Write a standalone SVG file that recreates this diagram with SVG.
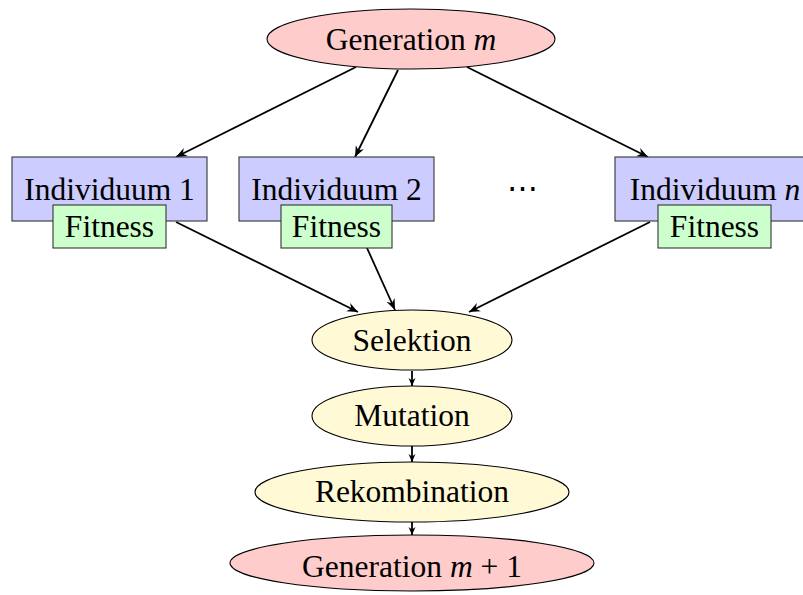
<svg xmlns="http://www.w3.org/2000/svg" width="803" height="595" viewBox="0 0 803 595">
  <style>
    text { font-family: "Liberation Serif", "DejaVu Serif", serif; font-size: 31.5px; fill: #000; text-anchor: middle; }
    .math { font-style: italic; }
    .dots { font-size: 31px; }
    .gen { fill: #ffcccc; stroke: #000; stroke-width: 1.1; }
    .step { fill: #fff9d6; stroke: #000; stroke-width: 1.1; }
    .ind { fill: #ccccff; stroke: #333; stroke-width: 1.1; }
    .fit { fill: #ccffcc; stroke: #333; stroke-width: 1.1; }
    .edge { fill: none; stroke: #000; stroke-width: 1.8; }
  </style>
  <defs>
    <marker id="arrow" viewBox="-11 -5 12 10" refX="0" refY="0" markerWidth="12" markerHeight="10" markerUnits="userSpaceOnUse" orient="auto">
      <path d="M0,0 L-11,-4.5 L-7.5,0 L-11,4.5 Z" fill="#000"/>
    </marker>
    <marker id="arrow-small" viewBox="-8 -4 9 8" refX="0" refY="0" markerWidth="9" markerHeight="8" markerUnits="userSpaceOnUse" orient="auto">
      <path d="M0,0 L-8,-3.5 L-5.5,0 L-8,3.5 Z" fill="#000"/>
    </marker>
  </defs>

  <!-- connectors -->
  <g id="connectors">
    <line class="edge" x1="356" y1="67" x2="176" y2="157" marker-end="url(#arrow)"/>
    <line class="edge" x1="398" y1="70" x2="355" y2="157" marker-end="url(#arrow)"/>
    <line class="edge" x1="467" y1="67" x2="648" y2="157" marker-end="url(#arrow)"/>
    <line class="edge" x1="176" y1="222" x2="358" y2="312" marker-end="url(#arrow)"/>
    <line class="edge" x1="367" y1="248" x2="395" y2="310" marker-end="url(#arrow)"/>
    <line class="edge" x1="650" y1="222" x2="469" y2="312" marker-end="url(#arrow)"/>
    <line class="edge" x1="412" y1="371" x2="412" y2="386" marker-end="url(#arrow-small)"/>
    <line class="edge" x1="412" y1="446" x2="412" y2="462" marker-end="url(#arrow-small)"/>
    <line class="edge" x1="412" y1="522" x2="412" y2="535" marker-end="url(#arrow-small)"/>
  </g>

  <g id="gen-m">
    <ellipse class="gen" cx="411" cy="39" rx="144" ry="30"/>
    <text x="411" y="50">Generation <tspan class="math">m</tspan></text>
  </g>

  <g id="individuum-1">
    <rect class="ind" x="12" y="157" width="195" height="64"/>
    <text x="109.5" y="200">Individuum 1</text>
  </g>
  <g id="fitness-1">
    <rect class="fit" x="53" y="205" width="113" height="43"/>
    <text x="109.5" y="237">Fitness</text>
  </g>

  <g id="individuum-2">
    <rect class="ind" x="239" y="157" width="195" height="64"/>
    <text x="336.5" y="200">Individuum 2</text>
  </g>
  <g id="fitness-2">
    <rect class="fit" x="281" y="205" width="111" height="43"/>
    <text x="336.5" y="237">Fitness</text>
  </g>

  <g id="dots">
    <text class="dots" x="522" y="199">⋯</text>
  </g>

  <g id="individuum-n">
    <rect class="ind" x="615" y="157" width="195" height="64"/>
    <text x="715" y="200">Individuum <tspan class="math">n</tspan></text>
  </g>
  <g id="fitness-n">
    <rect class="fit" x="658" y="205" width="113" height="43"/>
    <text x="714.5" y="237">Fitness</text>
  </g>

  <g id="selektion">
    <ellipse class="step" cx="412" cy="340" rx="100" ry="30"/>
    <text x="412" y="351">Selektion</text>
  </g>

  <g id="mutation">
    <ellipse class="step" cx="412" cy="416" rx="100" ry="30"/>
    <text x="412" y="426">Mutation</text>
  </g>

  <g id="rekombination">
    <ellipse class="step" cx="412" cy="492" rx="157" ry="30"/>
    <text x="412" y="502">Rekombination</text>
  </g>

  <g id="gen-m1">
    <ellipse class="gen" cx="412" cy="563" rx="182" ry="28"/>
    <text x="412" y="577">Generation <tspan class="math">m</tspan> + 1</text>
  </g>
</svg>
